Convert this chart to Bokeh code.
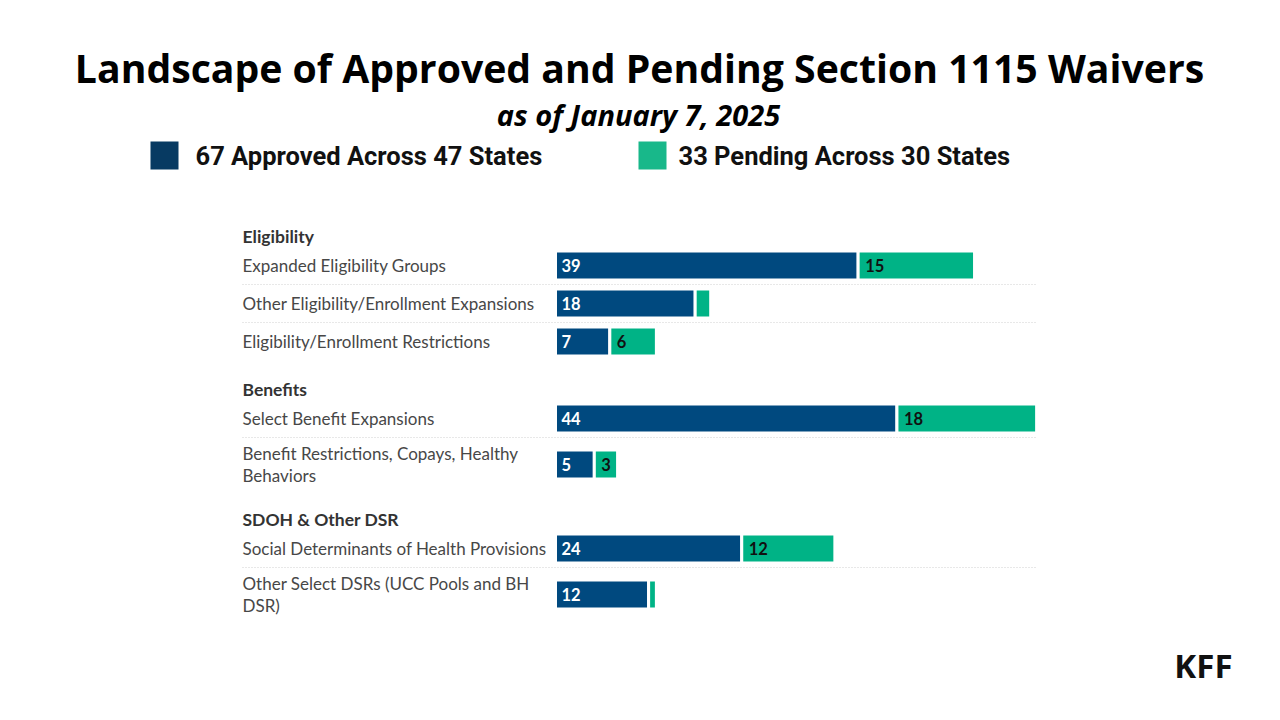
from bokeh.plotting import figure
from bokeh.models import Range1d, ColumnDataSource
from bokeh.core.properties import value
from bokeh.embed import file_html
from bokeh.resources import INLINE

# ---------------- data ----------------
title = "Landscape of Approved and Pending Section 1115 Waivers"
subtitle = "as of January 7, 2025"
legend_labels = ["67 Approved Across 47 States", "33 Pending Across 30 States"]
sections = ["Eligibility", "Benefits", "SDOH & Other DSR"]
row_section = [0, 0, 0, 1, 1, 2, 2]
categories = [
    "Expanded Eligibility Groups",
    "Other Eligibility/Enrollment Expansions",
    "Eligibility/Enrollment Restrictions",
    "Select Benefit Expansions",
    "Benefit Restrictions, Copays, Healthy\nBehaviors",
    "Social Determinants of Health Provisions",
    "Other Select DSRs (UCC Pools and BH\nDSR)",
]
approved = [39, 18, 7, 44, 5, 24, 12]
pending = [15, 2, 6, 18, 3, 12, 1]

# ---------------- style / layout ----------------
W, H = 1264, 696
SCALE = 7.76         # px per unit
MX, MY = 2, 1        # observed canvas offset in the photographed page
ORIGIN = 557 - MX    # canvas px of value 0
BLUE = "#00497F"
GREEN = "#00B386"
LEG_BLUE = "#073A62"
LEG_GREEN = "#18B88A"
LABEL_FONT = "Lato"


def px(page_x):
    """page x pixel -> data x"""
    return (page_x - MX - ORIGIN) / SCALE


def py(page_y):
    """page y pixel -> data y"""
    return page_y - MY


# vertical layout (page px from top)
header_y = {}
row_y = []
y = 237
prev_multi = False
cur_sec = None
for i, cat in enumerate(categories):
    multi = "\n" in cat
    if row_section[i] != cur_sec:
        if cur_sec is not None:
            y += 49 + (7 if prev_multi else 0)
        cur_sec = row_section[i]
        header_y[cur_sec] = py(y)
        y += 28
    else:
        y += 38 + (8 if multi else 0)
    row_y.append(py(y + 1))
    prev_multi = multi

totals = [a + b for a, b in zip(approved, pending)]
max_total = max(totals)

p = figure(width=W, height=H, output_backend="svg", toolbar_location=None,
           x_range=Range1d(px(MX), px(MX + W)), y_range=Range1d(H, 0),
           min_border=0, outline_line_color=None, background_fill_color="white",
           border_fill_color="white")
p.axis.visible = False
p.grid.visible = False

# separators (dotted), between rows within a section
sep_x0, sep_x1, sep_y = [], [], []
for i in range(len(categories) - 1):
    if row_section[i] == row_section[i + 1]:
        sep_x0.append(px(244))
        sep_x1.append(max_total)
        sep_y.append(row_y[i] + 19)
p.segment(x0=sep_x0, x1=sep_x1, y0=sep_y, y1=sep_y, line_color="#d0d0d0",
          line_width=1, line_dash="1 2")

src = ColumnDataSource(dict(y=row_y, a=approved, t=totals, p=pending,
                            alab=[str(v) for v in approved],
                            plab=[str(v) if v >= 3 else "" for v in pending],
                            cat=categories))
p.hbar(y="y", left=0, right="a", height=29, fill_color=BLUE,
       line_color="white", line_width=3, source=src)
p.hbar(y="y", left="a", right="t", height=29, fill_color=GREEN,
       line_color="white", line_width=3, source=src)

p.text(x=0, y="y", text="alab", x_offset=6, text_baseline="middle",
       text_color="white", text_font=value(LABEL_FONT),
       text_font_size=value("16.5px"), text_font_style="bold", source=src)
p.text(x="a", y="y", text="plab", x_offset=7, text_baseline="middle",
       text_color="#111111", text_font=value(LABEL_FONT),
       text_font_size=value("16.5px"), text_font_style="bold", source=src)

# category labels
p.text(x=px(244), y="y", text="cat", text_baseline="middle",
       text_color="#474747", text_font=value(LABEL_FONT),
       text_font_size=value("17px"), text_line_height=1.08, source=src)

# section headers
p.text(x=[px(244)] * len(sections), y=[header_y[k] for k in range(len(sections))],
       text=sections, text_baseline="middle", text_color="#333333",
       text_font=value(LABEL_FONT), text_font_size=value("17.5px"),
       text_font_style="bold")

# title & subtitle
p.text(x=[px(641)], y=[py(68)], text=[title], text_align="center",
       text_baseline="middle", text_color="#000000", text_font=value("Open Sans"),
       text_font_size=value("39.2px"), text_font_style="bold")
p.text(x=[px(640)], y=[py(115)], text=[subtitle], text_align="center",
       text_baseline="middle", text_color="#000000", text_font=value("Open Sans"),
       text_font_size=value("29px"), text_font_style="bold italic")

# legend
p.rect(x=[px(166), px(654)], y=[py(156), py(156)], width=28 / SCALE, height=28,
       fill_color=[LEG_BLUE, LEG_GREEN], line_color=None)
p.text(x=[px(197), px(680)], y=[py(156), py(156)], text=legend_labels,
       text_baseline="middle", text_color="#111111", text_font=value("Roboto"),
       text_font_size=value("25.5px"), text_font_style="bold")

# logo
p.text(x=[px(1234)], y=[py(666)], text=["KFF"], text_align="right",
       text_baseline="middle", text_color="#111111", text_font=value("Open Sans"),
       text_font_size=value("33px"), text_font_style="bold")

open("out.html", "w").write(file_html(p, INLINE))
